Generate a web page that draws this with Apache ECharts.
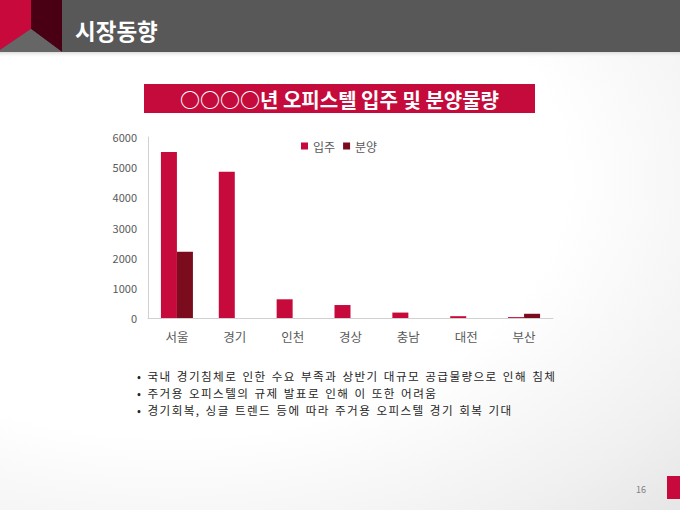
<!DOCTYPE html>
<html>
<head>
<meta charset="utf-8">
<script src="https://cdn.jsdelivr.net/npm/echarts@6/dist/echarts.min.js"></script>
<style>
  html, body { margin: 0; padding: 0; }
  body { width: 680px; height: 510px; overflow: hidden; position: relative;
    background: radial-gradient(ellipse at 25% 35%, #ffffff 55%, #f0f0f0 85%, #e6e6e6 100%); }
  #chart { width: 680px; height: 510px; }
  #bullets { position: absolute; left: 137px; top: 368px; margin: 0; padding: 0; list-style: none;
    font-family: "Noto Sans CJK KR", "Noto Sans", sans-serif; font-size: 11.6px; line-height: 17px;
    letter-spacing: 1.4px; word-spacing: 1.2px; color: #262626; white-space: nowrap; }
  #bullets li { height: 17px; }
</style>
</head>
<body>
<div id="chart"></div>
<ul id="bullets"></ul>
<script>
const categories = ['서울', '경기', '인천', '경상', '충남', '대전', '부산'];
const moveIn = [5500, 4850, 620, 430, 180, 60, 30];
const presale = [2200, 0, 0, 0, 0, 0, 140];
const seriesNames = ['입주', '분양'];
const yTicks = [0, 1000, 2000, 3000, 4000, 5000, 6000];
const headerTitle = '시장동향';
const chartTitle = '○○○○년 오피스텔 입주 및 분양물량';
const bullets = [
  '• 국내 경기침체로 인한 수요 부족과 상반기 대규모 공급물량으로 인해 침체',
  '• 주거용 오피스텔의 규제 발표로 인해 이 또한 어려움',
  '• 경기회복, 싱글 트렌드 등에 따라 주거용 오피스텔 경기 회복 기대'
];
const pageNumber = '16';

const ul = document.getElementById('bullets');
bullets.forEach(t => { const li = document.createElement('li'); li.textContent = t; ul.appendChild(li); });

const FONT = '"Noto Sans CJK KR", "Noto Sans", sans-serif';
const chart = echarts.init(document.getElementById('chart'), null, { renderer: 'svg' });

chart.setOption({
  animation: false,
  textStyle: { fontFamily: FONT },
  graphic: [
    { type: 'rect', shape: { x: 0, y: 0, width: 680, height: 52 }, style: { fill: '#585858' } },
    { type: 'rect', shape: { x: 0, y: 52, width: 680, height: 6 },
      style: { fill: new echarts.graphic.LinearGradient(0, 0, 0, 1, [
        { offset: 0, color: '#dcdcdc' }, { offset: 1, color: 'rgba(255,255,255,0)' }]) } },
    { type: 'polygon', shape: { points: [[0, 0], [31, 0], [31, 29], [0, 50], [0, 52], [0, 0]] },
      style: { fill: '#C8093B' } },
    { type: 'polygon', shape: { points: [[31, 0], [62, 0], [62, 52], [31, 29]] },
      style: { fill: '#4A0014' } },
    { type: 'polygon', shape: { points: [[0, 50], [31, 29], [62, 52], [0, 52]] },
      style: { fill: '#666666' } },
    { type: 'text', left: 75, top: 19,
      style: { text: headerTitle, font: 'bold 22.5px ' + FONT, fill: '#ffffff' } },
    { type: 'rect', shape: { x: 144, y: 84, width: 391, height: 29 }, style: { fill: '#C50A3C' } },
    { type: 'text', x: 339.5, y: 99,
      style: { text: chartTitle, font: 'bold 20px ' + FONT, fill: '#ffffff', align: 'center', verticalAlign: 'middle' } },
    { type: 'text', left: 636, top: 485,
      style: { text: pageNumber, font: '9px ' + FONT, fill: '#808080' } },
    { type: 'rect', shape: { x: 667, y: 476, width: 13, height: 23 }, style: { fill: '#C8093B' } }
  ],
  legend: {
    top: 135, left: 296,
    itemWidth: 7, itemHeight: 7, itemGap: 8,
    icon: 'rect',
    textStyle: { fontSize: 12, color: '#595959', fontFamily: FONT },
    data: seriesNames
  },
  grid: { left: 148, right: 127, top: 137, bottom: 192, containLabel: false },
  xAxis: {
    type: 'category', data: categories,
    axisLine: { lineStyle: { color: '#d0d0d0' } },
    axisTick: { show: false },
    axisLabel: { fontSize: 12.5, color: '#595959', margin: 12 }
  },
  yAxis: {
    type: 'value', min: 0, max: 6000, interval: 1000,
    axisLine: { show: true, lineStyle: { color: '#d0d0d0' } },
    axisTick: { show: false },
    splitLine: { show: false },
    axisLabel: { fontSize: 11, color: '#595959', margin: 11,
      formatter: v => yTicks.includes(v) ? String(v) : '' }
  },
  series: [
    { name: seriesNames[0], type: 'bar', data: moveIn, barWidth: 16, barGap: '0%',
      itemStyle: { color: '#C70A3C' } },
    { name: seriesNames[1], type: 'bar', data: presale, barWidth: 16, barGap: '0%',
      itemStyle: { color: '#7A0C1E' } }
  ]
});
</script>
</body>
</html>
